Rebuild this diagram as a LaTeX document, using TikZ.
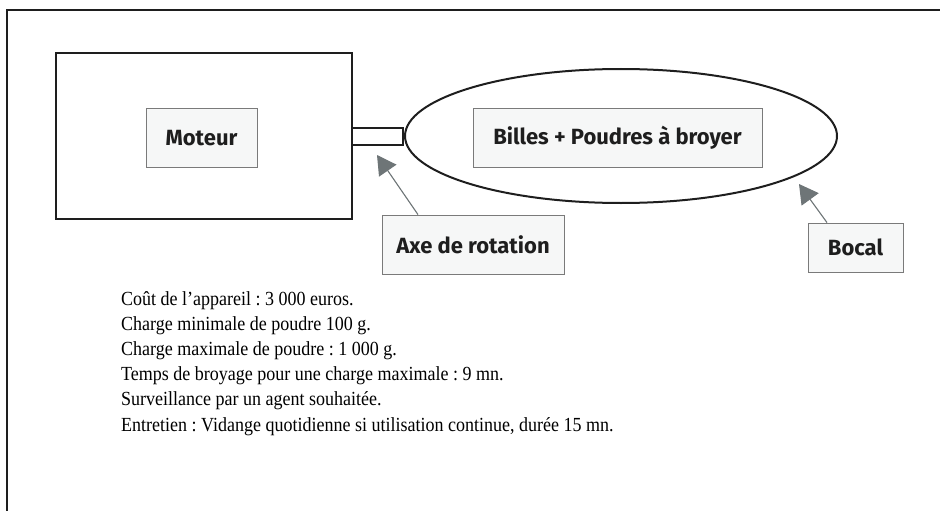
\documentclass[tikz,border=0pt]{standalone}
\usepackage{fontspec}
\setmainfont{Liberation Serif}
\newfontfamily\notefont[FakeStretch=0.9]{Liberation Serif}
\setsansfont{Fira Sans}
\usetikzlibrary{arrows.meta}
\definecolor{inkc}{HTML}{1E1E1E}
\definecolor{boxfill}{HTML}{F6F7F7}
\definecolor{boxline}{HTML}{7A7A7A}
\definecolor{ptrc}{HTML}{6E7577}
\tikzset{
  heavy/.style={draw=inkc, line width=2pt},
  lbl/.style={draw=boxline, fill=boxfill, line width=0.8pt, inner sep=0pt,
    font=\sffamily\bfseries\fontsize{22}{26}\selectfont, text=inkc},
  ptr/.style={draw=ptrc, line width=1.1pt, -{Triangle[length=19pt,width=21pt]}, fill=ptrc},
  note/.style={anchor=base west, inner sep=0pt, font=\notefont\frenchspacing\fontsize{20}{25}\selectfont, text=black}
}
\begin{document}
\begin{tikzpicture}[x=1pt,y=-1pt]
\useasboundingbox (0,0) rectangle (940,511);
% frame
\draw[draw=inkc, line width=1.3pt] (7,511) -- (7,10) -- (940,10);
% motor, shaft, jar
\draw[heavy] (56,53) rectangle (352,219);
\draw[heavy] (352,128) rectangle (403,145);
\draw[heavy] (621,136) ellipse [x radius=216, y radius=67];
% labels
\node[lbl, minimum width=111pt, minimum height=59pt] (moteur) at (201.5,138) {Moteur};
\node[lbl, minimum width=289pt, minimum height=59pt] (billes) at (617.5,137.5) {Billes + Poudres à broyer};
\node[lbl, minimum width=182pt, minimum height=59pt] (axe) at (473,244.5) {Axe de rotation};
\node[lbl, minimum width=95pt, minimum height=49pt] (bocal) at (855.5,247.5) {Bocal};
% pointers
\coordinate (axetip) at (377,155);
\coordinate (bocaltip) at (799,184);
\draw[ptr] ([xshift=-55pt]axe.north) -- (axetip);
\draw[ptr] ([xshift=-28.5pt]bocal.north) -- (bocaltip);
% notes
\node[note] (l1) at (121,305) {Coût de l’appareil : 3 000 euros.};
\node[note] (l2) at (121,330.2) {Charge minimale de poudre 100 g.};
\node[note] (l3) at (121,355.4) {Charge maximale de poudre : 1 000 g.};
\node[note] (l4) at (121,380.6) {Temps de broyage pour une charge maximale : 9 mn.};
\node[note] (l5) at (121,405.8) {Surveillance par un agent souhaitée.};
\node[note] (l6) at (121,431) {Entretien : Vidange quotidienne si utilisation continue, durée 15 mn.};
\end{tikzpicture}
\end{document}
